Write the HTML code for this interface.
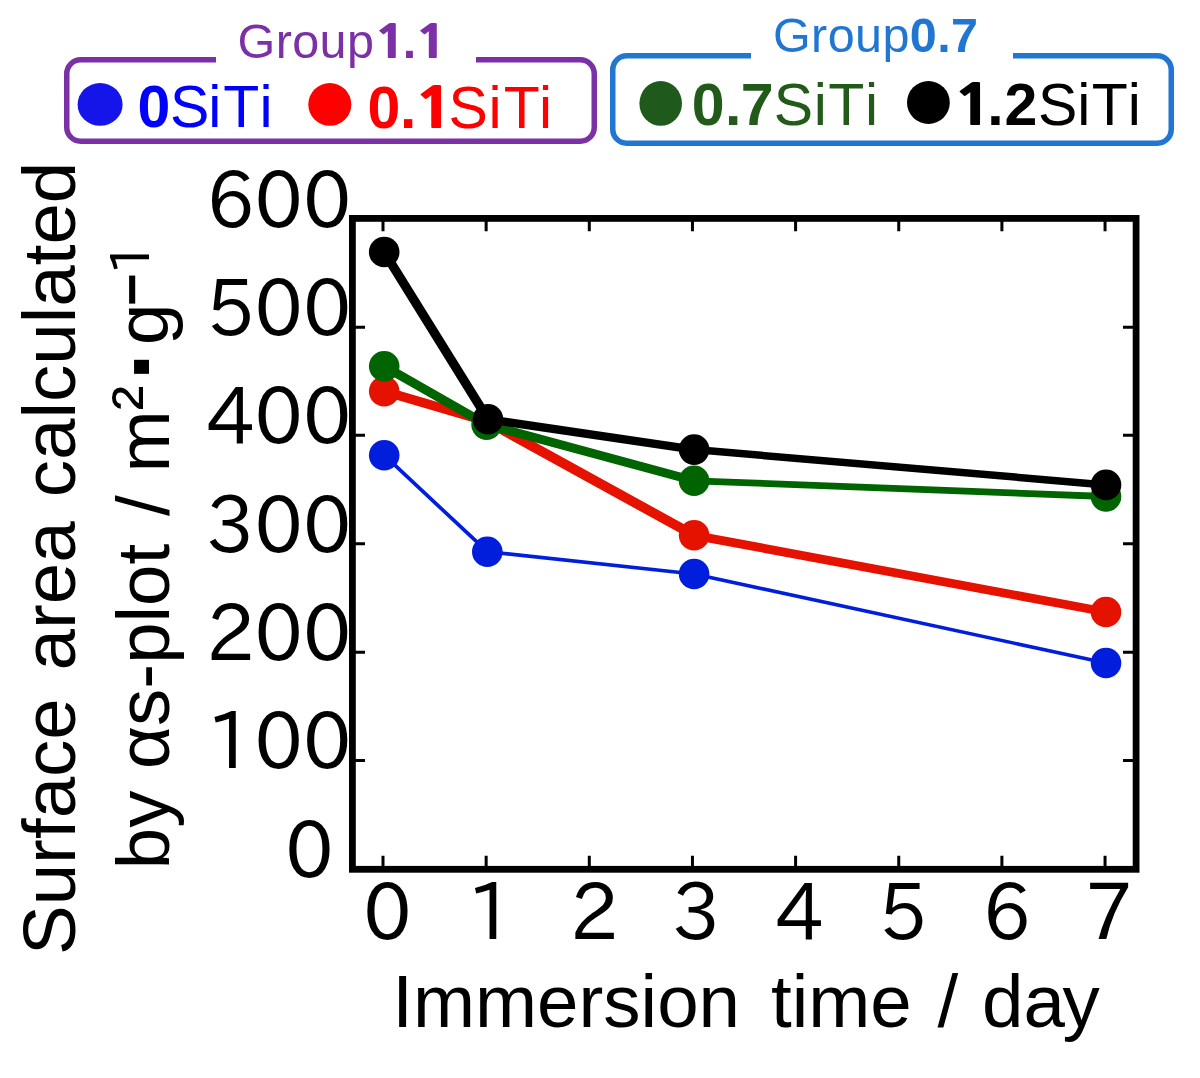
<!DOCTYPE html>
<html lang="en">
<head>
<meta charset="utf-8">
<title>Surface area vs immersion time</title>
<style>
  html, body { margin: 0; padding: 0; background: #ffffff; }
  body { width: 1200px; height: 1078px; overflow: hidden; }
  svg { display: block; }
  .arial { font-family: "Liberation Sans", sans-serif; }
  .b { font-weight: bold; }
  .one { font-family: "NanumGothic", "Liberation Sans", sans-serif; font-weight: 800; }
  .tick  { font-family: "IPAPGothic", "DejaVu Sans", sans-serif; font-size: 79px; fill: #000; }
  .axis  { font-family: "Liberation Sans", sans-serif; font-size: 74.5px; fill: #000; }
</style>
</head>
<body>
<svg width="1200" height="1078" viewBox="0 0 1200 1078">
  <rect x="0" y="0" width="1200" height="1078" fill="#ffffff"/>

  <!-- ===== Legend group boxes ===== -->
  <g fill="none" stroke-width="5.5" stroke-linecap="butt">
    <path stroke="#7b30a6" d="M216 59.75 H80.75 A14 14 0 0 0 66.75 73.75 V127.25 A14 14 0 0 0 80.75 141.25 H580.25 A14 14 0 0 0 594.25 127.25 V73.75 A14 14 0 0 0 580.25 59.75 H476"/>
    <path stroke="#2176d2" d="M751 55.75 H626.75 A14 14 0 0 0 612.75 69.75 V129.25 A14 14 0 0 0 626.75 143.25 H1157.25 A14 14 0 0 0 1171.25 129.25 V69.75 A14 14 0 0 0 1157.25 55.75 H1013"/>
  </g>

  <!-- group titles -->
  <text class="arial" font-size="48.5" fill="#7b30a6" y="57.8" x="237.6 275.7 292.3 319.6 347 372.9 402.7 414.1">Group<tspan class="one" font-size="44.2" textLength="35.2" lengthAdjust="spacingAndGlyphs">1</tspan><tspan class="b">.</tspan><tspan class="one" font-size="44.2" textLength="35.2" lengthAdjust="spacingAndGlyphs">1</tspan></text>
  <text class="arial" x="773" y="51.5" font-size="48.5" letter-spacing="0.4" fill="#2176d2">Group<tspan class="b">0.7</tspan></text>

  <!-- legend markers -->
  <ellipse cx="100.1" cy="104.45" rx="22.5" ry="21.4" fill="#1515ea"/>
  <ellipse cx="329.8" cy="104.45" rx="21.5" ry="21.4" fill="#ff0000"/>
  <ellipse cx="660.7" cy="103.45" rx="21.3" ry="22.4" fill="#1f591b"/>
  <ellipse cx="928.4" cy="102.5" rx="21.4" ry="21.5" fill="#000000"/>

  <!-- legend labels -->
  <g class="arial" font-size="59">
    <text fill="#0000ff" y="127.3" x="137.6 170.1 208.2 223.3 259.4"><tspan class="b">0</tspan>SiTi</text>
    <text fill="#ff0000" y="127.5" x="367.6 399.9 412.9 448.6 488.6 503.7 538.9"><tspan class="b">0.</tspan><tspan class="one" font-size="55.5" textLength="43.4" lengthAdjust="spacingAndGlyphs">1</tspan>SiTi</text>
    <text fill="#225a1a" y="125.3" x="691.8 724.9 740.7 773.7 813.7 828.3 865.0"><tspan class="b">0.7</tspan>SiTi</text>
    <text fill="#000000" y="125.3" x="952.1 987.3 1004.4 1038.1 1077.3 1091.7 1127.7"><tspan class="one" font-size="55.5" textLength="43.4" lengthAdjust="spacingAndGlyphs">1</tspan><tspan class="b">.2</tspan>SiTi</text>
  </g>

  <!-- ===== Plot frame ===== -->
  <rect x="352.4" y="218.4" width="783.7" height="650.9" fill="none" stroke="#000" stroke-width="6.8"/>

  <!-- ticks -->
  <g stroke="#000" stroke-width="3" fill="none">
    <path d="M383.00 866 V855.8 M486.15 866 V855.8 M589.30 866 V855.8 M692.45 866 V855.8 M795.60 866 V855.8 M898.75 866 V855.8 M1001.90 866 V855.8 M1105.05 866 V855.8"/>
    <path d="M383.00 221 V231.2 M486.15 221 V231.2 M589.30 221 V231.2 M692.45 221 V231.2 M795.60 221 V231.2 M898.75 221 V231.2 M1001.90 221 V231.2 M1105.05 221 V231.2"/>
    <path d="M355 327.2 H365 M355 435.2 H365 M355 543.7 H365 M355 652.3 H365 M355 760.4 H365"/>
    <path d="M1133 327.2 H1123 M1133 435.2 H1123 M1133 543.7 H1123 M1133 652.3 H1123 M1133 760.4 H1123"/>
  </g>

  <!-- ===== Data series ===== -->
  <g fill="none" stroke-linecap="round">
    <g stroke="#001edc"><line x1="384.2" y1="455.2" x2="487.3" y2="551.7" stroke-width="3.7"/><line x1="487.3" y1="551.7" x2="694.1" y2="574.0" stroke-width="3.6"/><line x1="694.1" y1="574.0" x2="1106" y2="663.0" stroke-width="3.6"/></g>
    <g stroke="#e61200"><line x1="384.2" y1="391.2" x2="487.3" y2="421.5" stroke-width="9.4"/><line x1="487.3" y1="421.5" x2="694.1" y2="535.3" stroke-width="9.8"/><line x1="694.1" y1="535.3" x2="1106" y2="612.0" stroke-width="8.8"/></g>
    <g stroke="#006400"><line x1="384.2" y1="366.2" x2="486.6" y2="424.6" stroke-width="9.1"/><line x1="486.6" y1="424.6" x2="694.1" y2="480.8" stroke-width="8.9"/><line x1="694.1" y1="480.8" x2="1106" y2="496.5" stroke-width="6.8"/></g>
    <g stroke="#000000"><line x1="384.2" y1="252.0" x2="488.0" y2="419.3" stroke-width="9.2"/><line x1="488.0" y1="419.3" x2="694.1" y2="449.6" stroke-width="8.4"/><line x1="694.1" y1="449.6" x2="1106" y2="484.9" stroke-width="7.5"/></g>
  </g>
  <g>
    <g fill="#001edc"><circle cx="384.2" cy="455.2" r="15.3"/><circle cx="487.3" cy="551.7" r="15.3"/><circle cx="694.1" cy="574.0" r="15.3"/><circle cx="1106" cy="663.0" r="15.3"/></g>
    <g fill="#e61200"><circle cx="384.2" cy="391.2" r="15.3"/><circle cx="487.3" cy="421.5" r="15.3"/><circle cx="694.1" cy="535.3" r="15.3"/><circle cx="1106" cy="612.0" r="15.3"/></g>
    <g fill="#006400"><circle cx="384.2" cy="366.2" r="15.3"/><circle cx="486.6" cy="424.6" r="15.3"/><circle cx="694.1" cy="480.8" r="15.3"/><circle cx="1106" cy="496.5" r="15.3"/></g>
    <g fill="#000000"><circle cx="384.2" cy="252.0" r="15.3"/><circle cx="488.0" cy="419.3" r="15.3"/><circle cx="694.1" cy="449.6" r="15.3"/><circle cx="1106" cy="484.9" r="15.3"/></g>
  </g>

  <!-- ===== Tick labels ===== -->
  <g class="tick" text-anchor="end">
    <text transform="translate(351.3 227.7) scale(0.972 1)">600</text>
    <text transform="translate(351.3 336.0) scale(0.972 1)">500</text>
    <text transform="translate(351.3 444.3) scale(0.972 1)">400</text>
    <text transform="translate(351.3 552.6) scale(0.972 1)">300</text>
    <text transform="translate(351.3 660.9) scale(0.972 1)">200</text>
    <text transform="translate(351.3 769.1) scale(0.972 1)">100</text>
    <text transform="translate(333.7 877.5) scale(0.972 1)">0</text>
  </g>
  <g class="tick" text-anchor="middle">
    <text transform="translate(387.5 940.3) scale(0.972 1)">0</text>
    <text transform="translate(491.0 940.3) scale(0.972 1)">1</text>
    <text transform="translate(594.2 940.3) scale(0.972 1)">2</text>
    <text transform="translate(696.4 940.3) scale(0.972 1)">3</text>
    <text transform="translate(799.4 940.3) scale(0.972 1)">4</text>
    <text transform="translate(902.9 940.3) scale(0.972 1)">5</text>
    <text transform="translate(1006.6 940.3) scale(0.972 1)">6</text>
    <text transform="translate(1109.3 940.3) scale(0.972 1)">7</text>
  </g>

  <!-- ===== Axis labels ===== -->
  <text class="axis" y="1027.4"><tspan x="392.3">Immersion</tspan> <tspan x="771">time</tspan> <tspan x="937.5">/</tspan> <tspan x="982" dx="0 0 -2.5">day</tspan></text>
  <g transform="rotate(-90)">
    <text class="axis" y="75.3"><tspan x="-955">Surface</tspan> <tspan x="-670.4">area</tspan> <tspan x="-497.2">calculated</tspan></text>
    <text class="axis" y="168.9"><tspan x="-869.2">by</tspan> <tspan x="-769">αs-plot</tspan> <tspan x="-516">/</tspan> <tspan x="-472.5">m</tspan><tspan y="163.2">²</tspan><tspan x="-380.7" y="175.3" font-size="100" font-weight="bold">·</tspan><tspan x="-345" y="168.4">g</tspan><tspan x="-305.7" y="151.2" font-size="56" font-weight="bold">−</tspan><tspan x="-275.1" y="150.3" font-size="53" font-family="IPAPGothic, 'Liberation Sans', sans-serif">1</tspan></text>
  </g>
</svg>
</body>
</html>
